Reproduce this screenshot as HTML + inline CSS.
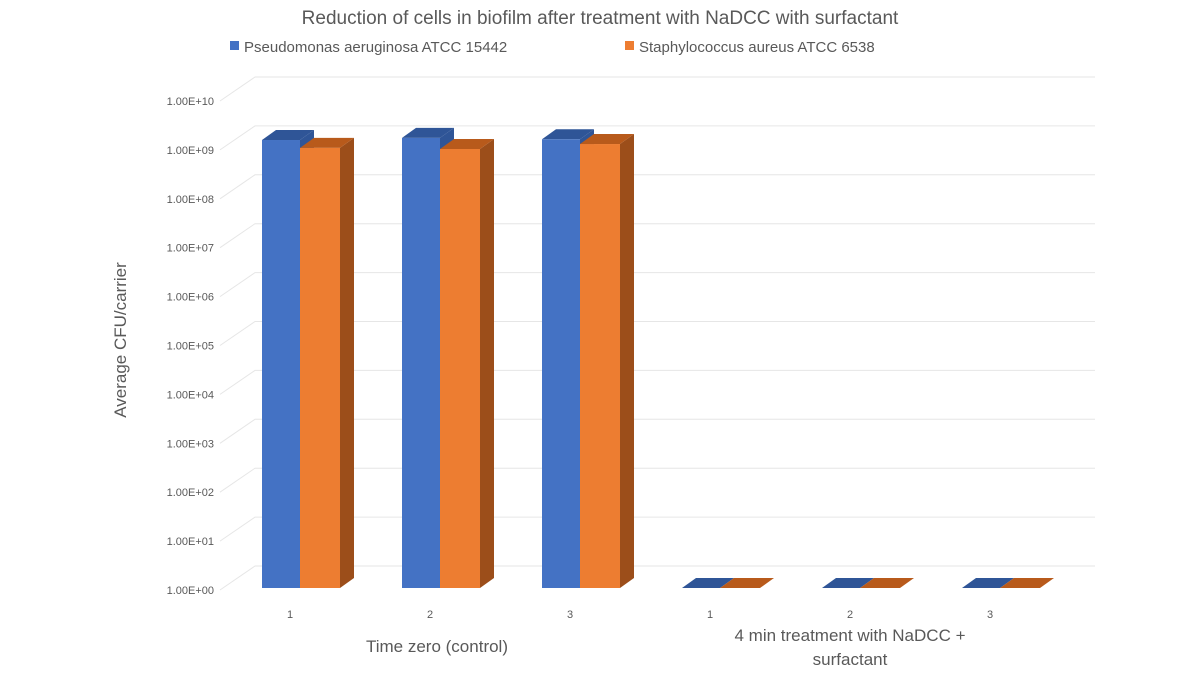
<!DOCTYPE html>
<html><head><meta charset="utf-8"><style>
body{margin:0;background:#fff;font-family:"Liberation Sans",sans-serif}
svg text{font-family:"Liberation Sans",sans-serif;fill:#595959}
</style></head><body>
<svg id="chart" width="1200" height="675" xmlns="http://www.w3.org/2000/svg">
<text x="600" y="24" font-size="19" text-anchor="middle">Reduction of cells in biofilm after treatment with NaDCC with surfactant</text>
<g>
<rect x="230" y="41" width="9" height="9" fill="#4472c4"/>
<text x="244" y="52" font-size="15">Pseudomonas aeruginosa     ATCC 15442</text>
<rect x="625" y="41" width="9" height="9" fill="#ed7d31"/>
<text x="639" y="52" font-size="15">Staphylococcus aureus          ATCC 6538</text>
</g>
<text transform="translate(126,340) rotate(-90)" font-size="17" text-anchor="middle">Average CFU/carrier</text>
<g id="grid"></g><g id="bars"></g><g id="xl"></g>
<text x="437" y="652" font-size="17" text-anchor="middle">Time zero (control)</text>
<text x="850" y="641" font-size="17" text-anchor="middle">4 min treatment with NaDCC +</text>
<text x="850" y="665" font-size="17" text-anchor="middle">surfactant</text>
</svg>
<script>
const categories=["1","2","3","1","2","3"];
const pseudomonas=[1.45e9,1.6e9,1.5e9,1,1,1];
const staphylococcus=[1.0e9,0.95e9,1.2e9,1,1,1];
const tickLabels=["1.00E+00","1.00E+01","1.00E+02","1.00E+03","1.00E+04","1.00E+05","1.00E+06","1.00E+07","1.00E+08","1.00E+09","1.00E+10"];
const NS="http://www.w3.org/2000/svg";
const base=588, dec=48.9, DX=14, DY=-10;
function y(v){return base-Math.log10(Math.max(v,1))*dec;}
function xc(i){return 290+i*140;}
function mk(p,t,a){const e=document.createElementNS(NS,t);for(const k in a)e.setAttribute(k,a[k]);p.appendChild(e);return e;}
const g=document.getElementById('grid');
tickLabels.forEach((t,i)=>{
 const yy=base-i*dec;
 const l=mk(g,'polyline',{points:`220,${yy+2} 255,${yy-22} 1095,${yy-22}`,fill:'none',stroke:'#e6e6e6','stroke-width':1});
 
 
 const tx=mk(g,'text',{x:214,y:yy+6,'font-size':11,'text-anchor':'end'});
 tx.textContent=t;
 
 
});
const b=document.getElementById('bars');
function bar(x0,w,v,c,top,side,name){
 const yt=y(v);
 const gg=mk(b,'g',{});
 
 
 mk(gg,'polygon',{points:`${x0+w},${base} ${x0+w+DX},${base+DY} ${x0+w+DX},${yt+DY} ${x0+w},${yt}`,fill:side});
 mk(gg,'polygon',{points:`${x0},${yt} ${x0+DX},${yt+DY} ${x0+w+DX},${yt+DY} ${x0+w},${yt}`,fill:top});
 if(base-yt>0.5) mk(gg,'rect',{x:x0,y:yt,width:w,height:base-yt,fill:c});
}
categories.forEach((c,i)=>{
 const cx=xc(i);
 bar(cx-28,38,pseudomonas[i],'#4472c4','#2f5597','#2f5597','bar-pseudomonas');
 bar(cx+10,40,staphylococcus[i],'#ed7d31','#b85a1b','#9c4e1a','bar-staphylococcus');
 const t=mk(document.getElementById('xl'),'text',{x:cx,y:618,'font-size':11,'text-anchor':'middle'});
 t.textContent=c;
 
 
});
</script>
</body></html>
